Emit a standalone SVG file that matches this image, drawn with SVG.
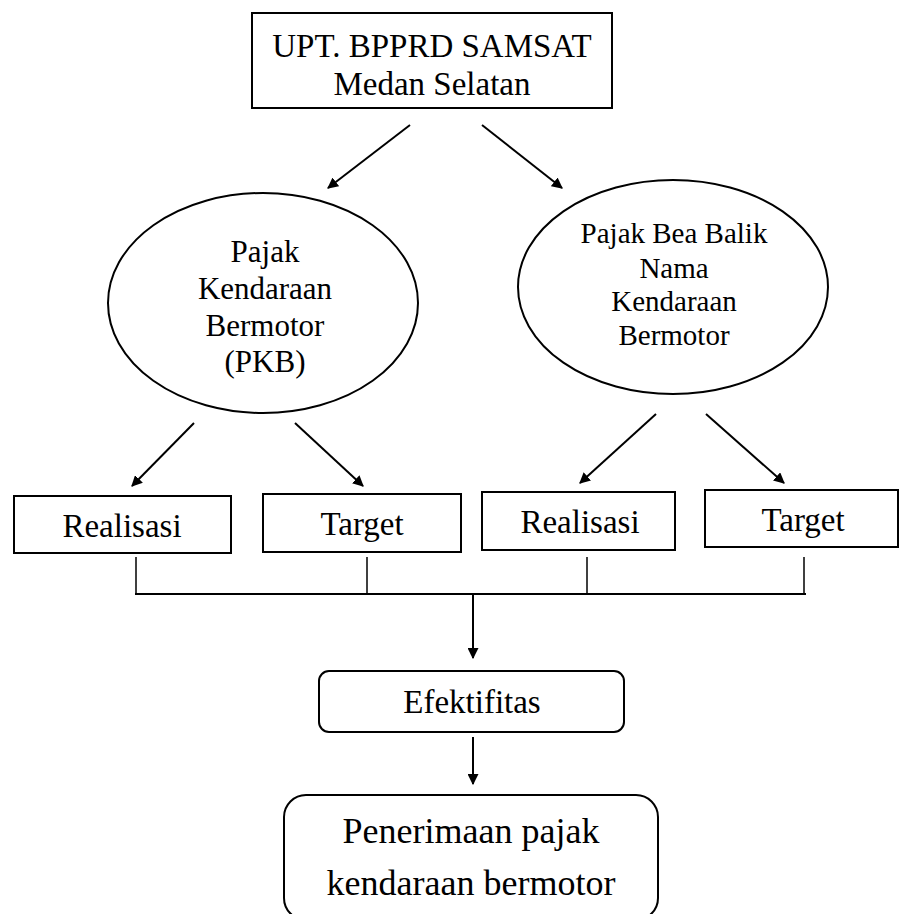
<svg xmlns="http://www.w3.org/2000/svg" width="900" height="914" viewBox="0 0 900 914">
<defs>
<style>
.box{fill:#fff;stroke:#000;stroke-width:2}
.t{font-family:"Liberation Serif","Times New Roman",serif;fill:#000;text-anchor:middle}
.c{stroke:#000;stroke-width:2;fill:none}
.l{stroke:#000;stroke-width:1.5;fill:none}
</style>
<marker id="ah" viewBox="0 0 10 10" refX="9" refY="5" markerWidth="5.5" markerHeight="5.5" orient="auto" markerUnits="strokeWidth">
<path d="M0,0 L10,5 L0,10 z" fill="#000"/>
</marker>
</defs>
<rect width="900" height="914" fill="#fff"/>
<g id="connectors">
<line class="c" x1="410" y1="125" x2="328" y2="188" marker-end="url(#ah)"/>
<line class="c" x1="482" y1="125" x2="562" y2="188" marker-end="url(#ah)"/>
<line class="c" x1="194" y1="423" x2="132" y2="486" marker-end="url(#ah)"/>
<line class="c" x1="295" y1="423" x2="363" y2="486" marker-end="url(#ah)"/>
<line class="c" x1="656" y1="414" x2="580" y2="483" marker-end="url(#ah)"/>
<line class="c" x1="706" y1="414" x2="784" y2="483" marker-end="url(#ah)"/>
<line class="l" x1="136" y1="557" x2="136" y2="594"/>
<line class="l" x1="367" y1="557" x2="367" y2="594"/>
<line class="l" x1="587" y1="557" x2="587" y2="594"/>
<line class="l" x1="804" y1="557" x2="804" y2="594"/>
<line class="c" x1="135" y1="594" x2="806" y2="594"/>
<line class="c" x1="473" y1="594" x2="473" y2="658" marker-end="url(#ah)"/>
<line class="c" x1="473" y1="737" x2="473" y2="784" marker-end="url(#ah)"/>
</g>
<g id="upt">
<rect class="box" x="252" y="13" width="360" height="95"/>
<text class="t" x="432" y="57" font-size="33">UPT. BPPRD SAMSAT</text>
<text class="t" x="432" y="95" font-size="33">Medan Selatan</text>
</g>
<g id="pkb">
<ellipse class="box" cx="263" cy="303" rx="155" ry="110"/>
<text class="t" x="265" y="262" font-size="31">Pajak</text>
<text class="t" x="265" y="299" font-size="31">Kendaraan</text>
<text class="t" x="265" y="336" font-size="31">Bermotor</text>
<text class="t" x="265" y="372" font-size="31">(PKB)</text>
</g>
<g id="bbnkb">
<ellipse class="box" cx="673" cy="287" rx="155" ry="107"/>
<text class="t" x="674" y="243" font-size="29">Pajak Bea Balik</text>
<text class="t" x="674" y="278" font-size="29">Nama</text>
<text class="t" x="674" y="311" font-size="29">Kendaraan</text>
<text class="t" x="674" y="345" font-size="29">Bermotor</text>
</g>
<g id="realisasi1">
<rect class="box" x="14" y="496" width="217" height="57"/>
<text class="t" x="122" y="537" font-size="33">Realisasi</text>
</g>
<g id="target1">
<rect class="box" x="263" y="494" width="198" height="58"/>
<text class="t" x="362" y="535" font-size="33">Target</text>
</g>
<g id="realisasi2">
<rect class="box" x="482" y="492" width="193" height="58"/>
<text class="t" x="580" y="533" font-size="33">Realisasi</text>
</g>
<g id="target2">
<rect class="box" x="705" y="490" width="193" height="57"/>
<text class="t" x="803" y="531" font-size="33">Target</text>
</g>
<g id="efektifitas">
<rect class="box" x="319" y="671" width="305" height="61" rx="10"/>
<text class="t" x="472" y="713" font-size="33">Efektifitas</text>
</g>
<g id="penerimaan">
<rect class="box" x="284" y="795" width="374" height="125" rx="22"/>
<text class="t" x="471" y="843" font-size="36">Penerimaan pajak</text>
<text class="t" x="471" y="895" font-size="36">kendaraan bermotor</text>
</g>
</svg>
